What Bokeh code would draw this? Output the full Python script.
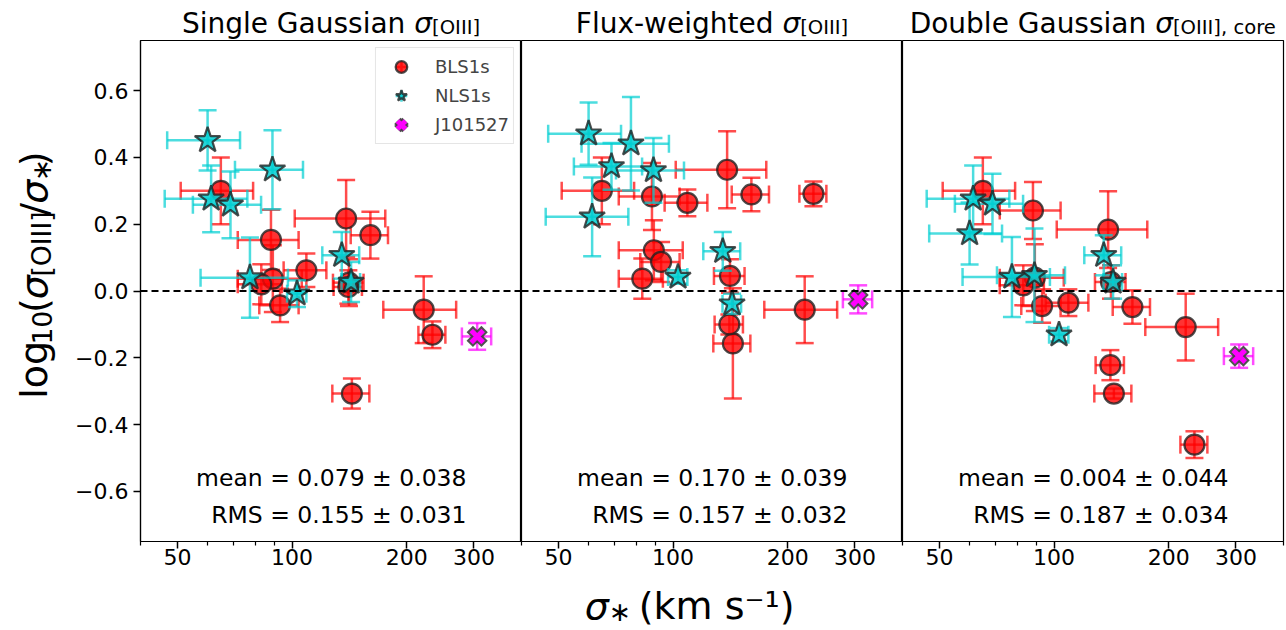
import math
from bokeh.plotting import figure
from bokeh.layouts import row, column
from bokeh.models import (ColumnDataSource, FixedTicker, Span, Label, Legend,
                          LegendItem, CustomJSTickFormatter, Range1d)
from bokeh.embed import file_html
from bokeh.resources import INLINE

# ---------------- data ----------------
# BLS1s: stellar velocity dispersion (km/s) and its error
bls_sigma = [65, 88, 89, 83, 93, 109, 138.6, 160.5, 141, 221.5, 233.5, 143.5, 140.5]
bls_sigma_err = [14, 16, 17, 11, 11, 14, 37, 18, 13, 48, 19, 16, 12]
bls_single = [0.30, 0.153, 0.037, 0.02, -0.043, 0.062, 0.217, 0.167, 0.025, -0.056, -0.131, -0.307, 0.012]
bls_single_err = [0.10, 0.09, 0.10, 0.06, 0.05, 0.05, 0.115, 0.07, 0.07, 0.10, 0.04, 0.045, 0.05]
bls_flux = [0.30, 0.283, 0.122, 0.037, 0.087, 0.264, 0.363, 0.289, 0.045, -0.056, 0.291, -0.157, -0.10]
bls_flux_err = [0.10, 0.10, 0.09, 0.06, 0.06, 0.04, 0.115, 0.05, 0.05, 0.10, 0.037, 0.165, 0.03]
bls_double = [0.30, 0.241, 0.04, 0.017, -0.045, -0.035, 0.184, -0.048, 0.027, -0.108, -0.46, -0.307, -0.222]
bls_double_err = [0.10, 0.085, 0.10, 0.06, 0.05, 0.04, 0.115, 0.05, 0.05, 0.10, 0.04, 0.015, 0.045]

# NLS1s
nls_sigma = [60, 88.8, 61.3, 68.9, 77.5, 103, 135, 142.8]
nls_sigma_err = [13, 18, 15, 14, 20, 6, 15, 8]
nls_single = [0.451, 0.363, 0.276, 0.258, 0.04, -0.008, 0.107, 0.027]
nls_single_err = [0.09, 0.118, 0.10, 0.10, 0.12, 0.04, 0.07, 0.06]
nls_flux = [0.471, 0.361, 0.222, 0.373, 0.441, 0.042, 0.119, -0.038]
nls_flux_err = [0.093, 0.097, 0.118, 0.07, 0.14, 0.02, 0.058, 0.03]
nls_double = [0.172, 0.047, 0.276, 0.261, 0.042, -0.131, 0.107, 0.027]
nls_double_err = [0.093, 0.14, 0.10, 0.09, 0.12, 0.02, 0.06, 0.05]

# J101527
j_sigma = [306]
j_sigma_err = [27]
j_single = [-0.136]
j_single_err = [0.04]
j_flux = [-0.025]
j_flux_err = [0.042]
j_double = [-0.195]
j_double_err = [0.035]

panel_title_main = ["Single Gaussian ", "Flux-weighted ", "Double Gaussian "]
panel_title_sub = ["[OIII]", "[OIII]", "[OIII], core"]
mean_texts = ["mean = 0.079 ± 0.038", "mean = 0.170 ± 0.039", "mean = 0.004 ± 0.044"]
rms_texts = ["RMS = 0.155 ± 0.031", "RMS = 0.157 ± 0.032", "RMS = 0.187 ± 0.034"]

x_ticks = [50, 100, 200, 300]
x_tick_labels = ["50", "100", "200", "300"]
x_minor_ticks = [40, 60, 70, 80, 90, 400]
y_ticks = [-0.6, -0.4, -0.2, 0.0, 0.2, 0.4, 0.6]
y_tick_labels = ["\u22120.6", "\u22120.4", "\u22120.2", "0.0", "0.2", "0.4", "0.6"]

panels = [
    dict(bls=bls_single, bls_e=bls_single_err, nls=nls_single, nls_e=nls_single_err,
         j=j_single, j_e=j_single_err),
    dict(bls=bls_flux, bls_e=bls_flux_err, nls=nls_flux, nls_e=nls_flux_err,
         j=j_flux, j_e=j_flux_err),
    dict(bls=bls_double, bls_e=bls_double_err, nls=nls_double, nls_e=nls_double_err,
         j=j_double, j_e=j_double_err),
]

# ---------------- style / layout ----------------
FONT = "DejaVu Sans"
RED = "#ff0000"
CYAN = "#00ced1"
MAG = "#ff00ff"
EDGE = "#222222"
TOTAL_W = 1286
FRAME_W = 381
FRAME_H = 501
TOP_H = 39          # title strip
YLAB_W = 72         # y-label strip
LEFT_B = 68         # y tick area inside first panel
BOT_B = 34          # x tick area below the frames
PANEL_H = 1 + FRAME_H + BOT_B
BOTTOM_H = 630 - TOP_H - PANEL_H
FRAME_TOP = TOP_H + 1
FRAME_LEFTS = [YLAB_W + LEFT_B + k * FRAME_W for k in range(3)]

WID = {" ": .318, "(": .390, ")": .390, "*": .5, ",": .318, "-": .361, ".": .318,
       "/": .337, "=": .838, "D": .770, "F": .575, "G": .775, "I": .295, "O": .787,
       "S": .635, "[": .390, "]": .390, "a": .613, "b": .635, "c": .550, "d": .635,
       "e": .615, "g": .635, "h": .634, "i": .278, "k": .579, "l": .278, "m": .974,
       "n": .634, "o": .612, "r": .411, "s": .521, "t": .392, "u": .634, "w": .818,
       "x": .592, "\u03c3": .634, "\u2217": .6, "\u2212": .838, "1": .636, "0": .636,
       "\u207b": .52, "\u00b9": .40}

FMT_CODE = ("const i = tvals.findIndex(t => Math.abs(t - tick) < 1e-6);"
            " return i >= 0 ? tlabels[i] : '';")


def tw(s, size):
    return sum(WID.get(c, .6) for c in s) * size


def strip(w, h):
    f = figure(width=w, height=h, x_range=Range1d(0, w), y_range=Range1d(h, 0),
               output_backend="svg", toolbar_location=None, title=None,
               x_axis_location=None, y_axis_location=None,
               min_border=0, min_border_left=0, min_border_right=0,
               min_border_top=0, min_border_bottom=0)
    f.grid.visible = False
    f.outline_line_color = None
    f.background_fill_color = "white"
    f.border_fill_color = "white"
    return f


def rich(f, ox, oy, pieces, cx, cy, vertical=False):
    """Lay out (text, size, shift_down, style, extra_gap) pieces centred at canvas (cx, cy).
    f's data coordinates are canvas pixels minus (ox, oy)."""
    total = sum(tw(t, s) + g for t, s, d, st, g in pieces)
    if vertical:
        ux, uy, dx, dy, ang = 0.0, -1.0, 1.0, 0.0, math.pi / 2
    else:
        ux, uy, dx, dy, ang = 1.0, 0.0, 0.0, 1.0, 0.0
    off = -total / 2
    for t, s, d, st, g in pieces:
        px = cx + off * ux + d * dx
        py = cy + off * uy + d * dy
        f.add_layout(Label(x=px - ox, y=py - oy, text=t, angle=ang,
                           text_font=FONT, text_font_size=f"{s}px", text_font_style=st,
                           text_align="left", text_baseline="alphabetic",
                           text_color="black"))
        off += tw(t, s) + g


def add_errorbars(p, x, xe, y, ye, color):
    src = ColumnDataSource(dict(
        x=x, y=y,
        xl=[a - b for a, b in zip(x, xe)], xh=[a + b for a, b in zip(x, xe)],
        yl=[a - b for a, b in zip(y, ye)], yh=[a + b for a, b in zip(y, ye)]))
    kw = dict(line_color=color, line_alpha=0.7, line_width=2.5)
    p.segment(x0="xl", y0="y", x1="xh", y1="y", source=src, **kw)
    p.segment(x0="x", y0="yl", x1="x", y1="yh", source=src, **kw)
    for cxn, cyn, ang in (("xl", "y", math.pi / 2), ("xh", "y", math.pi / 2),
                          ("x", "yl", 0.0), ("x", "yh", 0.0)):
        p.scatter(x=cxn, y=cyn, source=src, marker="dash", size=18, angle=ang, **kw)


def make_panel(i):
    d = panels[i]
    if i == 0:
        width, mbl, mbr = FRAME_W + LEFT_B, LEFT_B, 0
    elif i == 1:
        width, mbl, mbr = FRAME_W, 0, 0
    else:
        width, mbl, mbr = TOTAL_W - FRAME_LEFTS[2], 0, TOTAL_W - FRAME_LEFTS[2] - FRAME_W
    p = figure(width=width, height=PANEL_H, x_axis_type="log", x_range=(40, 400),
               y_range=(-0.75, 0.75), output_backend="svg", toolbar_location=None,
               title=None, y_axis_location="left" if i == 0 else None,
               min_border_left=mbl, min_border_right=mbr,
               min_border_top=1, min_border_bottom=BOT_B)
    p.grid.visible = False
    p.outline_line_color = "black"
    p.outline_line_width = 1.2
    p.background_fill_color = "white"
    p.border_fill_color = "white"

    xa = p.xaxis[0]
    xa.ticker = FixedTicker(ticks=x_ticks, minor_ticks=x_minor_ticks)
    xa.formatter = CustomJSTickFormatter(
        args=dict(tvals=x_ticks, tlabels=x_tick_labels), code=FMT_CODE)
    xa.major_label_text_font = FONT
    xa.major_label_text_font_size = "22px"
    xa.major_label_text_color = "black"
    xa.major_tick_out = 7
    xa.major_tick_in = 0
    xa.minor_tick_out = 4
    xa.minor_tick_in = 0
    xa.major_tick_line_width = 1.5
    xa.minor_tick_line_width = 1.2
    xa.axis_line_width = 1.2
    xa.major_label_standoff = 0

    if i == 0:
        ya = p.yaxis[0]
        ya.ticker = FixedTicker(ticks=y_ticks, minor_ticks=[])
        ya.formatter = CustomJSTickFormatter(
            args=dict(tvals=y_ticks, tlabels=y_tick_labels), code=FMT_CODE)
        ya.major_label_text_font = FONT
        ya.major_label_text_font_size = "22px"
        ya.major_label_text_color = "black"
        ya.major_tick_out = 7
        ya.major_tick_in = 0
        ya.major_tick_line_width = 1.5
        ya.axis_line_width = 1.2
        ya.major_label_standoff = 5

    p.add_layout(Span(location=0, dimension="width", line_color="black",
                      line_dash="7 4", line_width=2))

    # BLS1s
    add_errorbars(p, bls_sigma, bls_sigma_err, d["bls"], d["bls_e"], RED)
    circ = p.scatter(x=bls_sigma, y=d["bls"], marker="circle", size=20,
                     fill_color=RED, fill_alpha=0.8, line_color=EDGE,
                     line_alpha=0.8, line_width=2.2)
    # NLS1s
    add_errorbars(p, nls_sigma, nls_sigma_err, d["nls"], d["nls_e"], CYAN)
    star = p.scatter(x=nls_sigma, y=d["nls"], marker="star", size=27,
                     fill_color=CYAN, fill_alpha=0.85, line_color=EDGE,
                     line_alpha=0.8, line_width=2.2)
    # J101527
    add_errorbars(p, j_sigma, j_sigma_err, d["j"], d["j_e"], MAG)
    jx1 = p.scatter(x=j_sigma, y=d["j"], marker="x", size=21, line_color="#333333",
                    line_alpha=0.85, line_width=9)
    jx2 = p.scatter(x=j_sigma, y=d["j"], marker="x", size=17, line_color=MAG,
                    line_alpha=1.0, line_width=5)

    # statistics text
    p.add_layout(Label(x=326, y=-0.56, x_units="screen", y_units="data",
                       text=mean_texts[i], text_font=FONT, text_font_size="23.5px",
                       text_align="right", text_baseline="middle", text_color="black"))
    p.add_layout(Label(x=326, y=-0.67, x_units="screen", y_units="data",
                       text=rms_texts[i], text_font=FONT, text_font_size="23.5px",
                       text_align="right", text_baseline="middle", text_color="black"))

    if i == 0:
        # legend proxies for the error-bar crosses (outside the visible x range)
        pc_r = p.scatter(x=[1], y=[0], marker="cross", line_color=RED, line_alpha=0.7,
                         line_width=2.5)
        pc_c = p.scatter(x=[1], y=[0], marker="cross", line_color=CYAN, line_alpha=0.7,
                         line_width=2.5)
        pc_m = p.scatter(x=[1], y=[0], marker="cross", line_color=MAG, line_alpha=0.7,
                         line_width=2.5)
        legend = Legend(items=[
            LegendItem(label="BLS1s", renderers=[pc_r, circ]),
            LegendItem(label="NLS1s", renderers=[pc_c, star]),
            LegendItem(label="J101527", renderers=[pc_m, jx1, jx2]),
        ], location="top_right")
        legend.label_text_font = FONT
        legend.label_text_font_size = "18px"
        legend.glyph_width = 42
        legend.glyph_height = 29
        legend.spacing = 0
        legend.padding = 4
        legend.margin = 7
        legend.label_standoff = 13
        legend.border_line_color = "#cccccc"
        legend.border_line_width = 1.2
        legend.background_fill_alpha = 0.85
        p.add_layout(legend)
    return p


panel_figs = [make_panel(i) for i in range(3)]

# title strip
top = strip(TOTAL_W, TOP_H)
for i in range(3):
    rich(top, 0, 0, [(panel_title_main[i], 28, 0, "normal", 0),
                     ("\u03c3", 28, 0, "italic", 0),
                     (panel_title_sub[i], 19.6, 3.5, "normal", 0)],
         FRAME_LEFTS[i] + FRAME_W / 2, 23)

# y-label strip
ylab = strip(YLAB_W, PANEL_H)
rich(ylab, 0, TOP_H, [("log", 38, 0, "normal", 0), ("10", 26.6, 8, "normal", 0),
                      ("(", 38, 0, "normal", 0), ("\u03c3", 38, 0, "italic", 0),
                      ("[OIII]", 26.6, 8, "normal", 0), ("/", 38, 0, "normal", 0),
                      ("\u03c3", 38, 0, "italic", 0), ("\u2217", 26.6, 8, "normal", 0),
                      (")", 38, 0, "normal", 0)],
     33, FRAME_TOP + FRAME_H / 2, vertical=True)

# x-label strip
bottom = strip(TOTAL_W, BOTTOM_H)
rich(bottom, 0, TOP_H + PANEL_H,
     [("\u03c3", 38, 0, "italic", 0), ("\u2217", 26.6, 6, "normal", 14),
      (" (km s\u207b\u00b9)", 38, 0, "normal", 0)],
     695, 605)

layout = column(top, row(ylab, *panel_figs), bottom)
open("out.html", "w").write(file_html(layout, INLINE))
